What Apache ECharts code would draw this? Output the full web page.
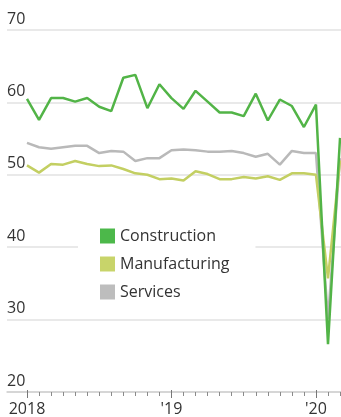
<!DOCTYPE html>
<html>
<head>
<meta charset="utf-8">
<script src="https://cdn.jsdelivr.net/npm/echarts@6/dist/echarts.min.js"></script>
<style>
html,body{margin:0;padding:0;background:#fff;}
#chart{width:341px;height:417px;}
</style>
</head>
<body>
<div id="chart"></div>
<script>
// Months Jan 2018 .. Mar 2020
const months = ['2018-01','2018-02','2018-03','2018-04','2018-05','2018-06','2018-07','2018-08','2018-09','2018-10','2018-11','2018-12',
  '2019-01','2019-02','2019-03','2019-04','2019-05','2019-06','2019-07','2019-08','2019-09','2019-10','2019-11','2019-12',
  '2020-01','2020-02','2020-03'];
const yearLabels = {0:'2018', 12:"'19", 24:"'20"};
const construction = [60.5,57.6,60.6,60.6,60.1,60.6,59.4,58.8,63.4,63.8,59.2,62.5,
  60.6,59.1,61.6,60.1,58.6,58.6,58.1,61.2,57.5,60.4,59.5,56.6,
  59.7,26.6,55.1];
const manufacturing = [51.3,50.3,51.5,51.4,51.9,51.5,51.2,51.3,50.8,50.2,50.0,49.4,
  49.5,49.2,50.5,50.1,49.4,49.4,49.7,49.5,49.8,49.3,50.2,50.2,
  50.0,35.7,52.0];
const services = [54.4,53.8,53.6,53.8,54.0,54.0,53.0,53.3,53.2,51.9,52.3,52.3,
  53.4,53.5,53.4,53.2,53.2,53.3,53.0,52.5,52.9,51.4,53.3,53.0,
  53.0,30.1,52.3];
const yTicks = [20,30,40,50,60,70];

const FONT = 'Open Sans';
const idx = months.map((m,i)=>i);
const pairs = arr => arr.map((v,i)=>[idx[i], v]);

const chart = echarts.init(document.getElementById('chart'), null, {renderer:'canvas'});
chart.setOption({
  animation:false,
  backgroundColor:'#fff',
  grid:{left:7, right:0, top:30, bottom:24, containLabel:false},
  xAxis:[{
    type:'value', min:-1.66, max:26.08,
    splitLine:{show:false},
    axisLine:{show:true, lineStyle:{color:'#cfcfcf', width:1.5}},
    axisTick:{show:true, customValues:idx, length:4, lineStyle:{color:'#8a8a8a', width:1}},
    axisLabel:{show:true, customValues:[0,12,24], formatter:v=>yearLabels[Math.round(v)]||'',
      fontFamily:FONT, fontSize:16, color:'#333', margin:9}
  },{
    type:'value', min:-1.66, max:26.08, position:'bottom', offset:-2,
    splitLine:{show:false}, axisLine:{show:false},
    axisTick:{show:true, customValues:[0,12,24], length:8, lineStyle:{color:'#777', width:1}},
    axisLabel:{show:false}
  }],
  yAxis:{
    type:'value', min:20, max:70, interval:10,
    axisLine:{show:false}, axisTick:{show:false},
    splitLine:{show:true, lineStyle:{color:'#e2e2e2', width:1.5}},
    axisLabel:{inside:true, margin:0, verticalAlign:'bottom', align:'left', padding:[0,0,3,0],
      fontFamily:FONT, fontSize:16, color:'#333'}
  },
  legend:{
    orient:'vertical', left:78, top:223,
    data:['Construction','Manufacturing','Services'],
    icon:'rect', itemWidth:15, itemHeight:15, itemGap:12,
    backgroundColor:'#fff', padding:[5,26,5,22],
    textStyle:{fontFamily:FONT, fontSize:16, color:'#333'}
  },
  series:[
    {name:'Services', type:'line', data:pairs(services), showSymbol:false, symbol:'none',
      lineStyle:{color:'#b9b9b9', width:2.5}, itemStyle:{color:'#bdbdbd'}, z:2},
    {name:'Manufacturing', type:'line', data:pairs(manufacturing), showSymbol:false, symbol:'none',
      lineStyle:{color:'#c3cf62', width:2.5}, itemStyle:{color:'#c8d46a'}, z:3},
    {name:'Construction', type:'line', data:pairs(construction), showSymbol:false, symbol:'none',
      lineStyle:{color:'#52b447', width:2.5}, itemStyle:{color:'#4cb84a'}, z:4}
  ]
});
</script>
</body>
</html>
